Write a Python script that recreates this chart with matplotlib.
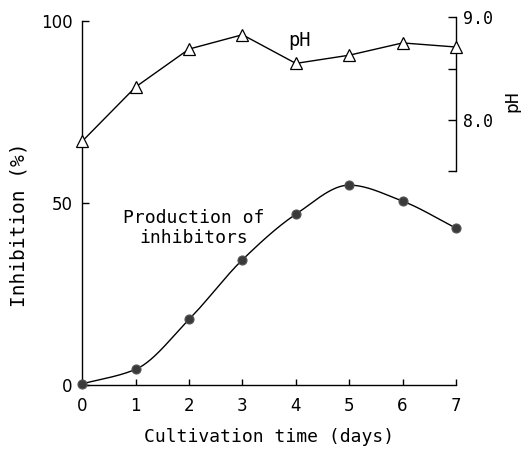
import numpy as np
import matplotlib
matplotlib.use("Agg")
import matplotlib.pyplot as plt

# ---- data ----
days = [0, 1, 2, 3, 4, 5, 6, 7]
inhibition = [0.3, 4.3, 18.0, 34.4, 46.9, 54.9, 50.5, 43.1]
ph = [7.79, 8.32, 8.69, 8.83, 8.55, 8.63, 8.75, 8.71]
x_ticks = [0, 1, 2, 3, 4, 5, 6, 7]
y_ticks = [0, 50, 100]
ph_ticks = [7.5, 8.0, 8.5, 9.0]
ph_tick_labels = ["", "8.0", "", "9.0"]


def pchip(x, y, xs):
    x = np.asarray(x, float)
    y = np.asarray(y, float)
    h = np.diff(x)
    d = np.diff(y) / h
    n = len(x)
    m = np.zeros(n)
    for k in range(1, n - 1):
        if d[k - 1] * d[k] <= 0:
            m[k] = 0.0
        else:
            w1 = 2 * h[k] + h[k - 1]
            w2 = h[k] + 2 * h[k - 1]
            m[k] = (w1 + w2) / (w1 / d[k - 1] + w2 / d[k])
    m[0] = d[0]
    m[-1] = d[-1]
    out = np.empty_like(xs)
    for i, xv in enumerate(xs):
        k = min(np.searchsorted(x, xv, side="right") - 1, n - 2)
        t = (xv - x[k]) / h[k]
        h00 = 2 * t**3 - 3 * t**2 + 1
        h10 = t**3 - 2 * t**2 + t
        h01 = -2 * t**3 + 3 * t**2
        h11 = t**3 - t**2
        out[i] = h00 * y[k] + h10 * h[k] * m[k] + h01 * y[k + 1] + h11 * h[k] * m[k + 1]
    return out


fig = plt.figure(figsize=(5.21, 4.49), dpi=100)
ax = fig.add_axes([0.1374, 0.1183, 0.7583, 0.8755])
ax2 = ax.twinx()

ax.set_xlim(-0.2, 7.2)
ax.set_ylim(-3, 105)
ax2.set_ylim(5.303, 9.142)

xs = np.linspace(days[0], days[-1], 300)
ax.plot(xs, pchip(days, inhibition, xs), color="black", lw=1.0, clip_on=False, zorder=2)
ax.plot(days, inhibition, "o", ms=6.5, mfc="#3a3a3a", mec="#555555", mew=0.8,
        clip_on=False, zorder=3)

ax2.plot(days, ph, color="black", lw=1.0, clip_on=False, zorder=2)
ax2.plot(days, ph, "^", ms=8, mfc="white", mec="black", mew=0.9,
         clip_on=False, zorder=3)

for a in (ax, ax2):
    a.spines["top"].set_visible(False)
    a.set_facecolor("none")
ax.spines["right"].set_visible(False)
ax2.spines["left"].set_visible(False)
ax2.spines["bottom"].set_visible(False)
ax.spines["left"].set_position(("data", 0))
ax.spines["bottom"].set_position(("data", 0))
ax2.spines["right"].set_position(("data", 7))
ax.spines["left"].set_bounds(0, 100)
ax.spines["bottom"].set_bounds(0, 7)
ax2.spines["right"].set_bounds(7.5, 9.0)
for s in ("left", "bottom"):
    ax.spines[s].set_linewidth(1.0)
ax2.spines["right"].set_linewidth(1.0)

ax.set_xticks(x_ticks)
ax.set_xticklabels([str(v) for v in x_ticks], fontsize=12, family="DejaVu Sans")
ax.set_yticks(y_ticks)
ax.set_yticklabels([str(v) for v in y_ticks], fontsize=12, family="DejaVu Sans")
ax.tick_params(axis="x", direction="in", length=4, width=1, pad=9)
ax.tick_params(axis="y", direction="in", length=5, width=1, pad=7)

ax2.set_yticks(ph_ticks)
ax2.set_yticklabels(ph_tick_labels, fontsize=12, family="DejaVu Sans Mono")
ax2.tick_params(axis="y", direction="in", length=6, width=1, pad=5)

fig.text(299 / 521, 1 - 40.7 / 449, "pH", ha="center", va="center",
         fontsize=13.5, family="DejaVu Sans Mono")
fig.text(194 / 521, 1 - 228 / 449, "Production of\ninhibitors", ha="center",
         va="center", fontsize=13, family="DejaVu Sans Mono", linespacing=1.15)
fig.text(269 / 521, 1 - 437 / 449, "Cultivation time (days)", ha="center",
         va="center", fontsize=13, family="DejaVu Sans Mono")
fig.text(19 / 521, 1 - 225 / 449, "Inhibition (%)", ha="center", va="center",
         rotation=90, fontsize=14, family="DejaVu Sans Mono")
fig.text(512 / 521, 1 - 101 / 449, "pH", ha="center", va="center",
         rotation=90, fontsize=13, family="DejaVu Sans Mono")

fig.savefig("out.png", dpi=100)
